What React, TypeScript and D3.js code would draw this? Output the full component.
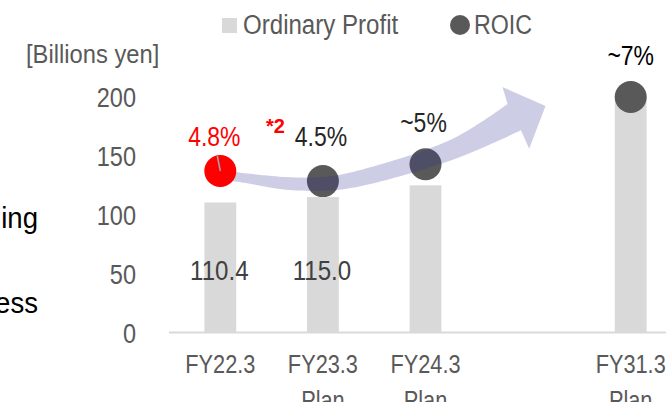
import React from "react";
import * as d3 from "d3";

const categories = ["FY22.3", "FY23.3", "FY24.3", "", "FY31.3"];
const subLabels = ["", "Plan", "Plan", "", "Plan"];
const profit: (number | null)[] = [110.4, 115.0, 125, null, 200];
const profitLabels = ["110.4", "115.0", "", "", ""];
const roic: (number | null)[] = [4.8, 4.5, 5.0, null, 7.0];
const roicLabels = ["4.8%", "4.5%", "~5%", "", "~7%"];
const yTicks = [0, 50, 100, 150, 200];

// arrow outline in (category index, ROIC %) coordinates
const arrowUpper: [number, number][] = [[0.05, 4.8], [0.64, 4.62], [0.99, 4.62], [1.29, 4.77], [2.26, 5.75], [2.8, 6.79]];
const arrowHead: [number, number][] = [[2.75, 7.3], [3.17, 6.73], [3.01, 5.46]];
const arrowLower: [number, number][] = [[2.93, 6.01], [2.26, 5.13], [1.29, 4.3], [0.99, 4.21], [0.64, 4.24], [0.31, 4.41], [0.05, 4.53]];

const W = 666, H = 402;
const FONT = "'Liberation Sans',Arial,sans-serif";
const GRAY = "#595959";

type TProps = { x: number; y: number; size: number; fill: string; anchor?: string; sx?: number; dy?: string; weight?: string; children: React.ReactNode };
function T({ x, y, size, fill, anchor = "start", sx = 0.84, dy, weight, children }: TProps) {
  return (
    <text transform={`translate(${x},${y}) scale(${sx},1)`} textAnchor={anchor} dy={dy} fontFamily={FONT} fontSize={size} fontWeight={weight} fill={fill}>
      {children}
    </text>
  );
}

export default function App() {
  const x = d3.scaleBand<string>().domain(categories.map((c, i) => String(i))).range([169, 169 + 5 * 102.6]).padding(0);
  const barW = x.bandwidth() * 0.31;
  const cx = (i: number) => (x(String(i)) as number) + x.bandwidth() / 2;
  const y = d3.scaleLinear().domain([0, 200]).range([332.5, 97]);
  const yr = d3.scaleLinear().domain([0, 7]).range([332.5, 97]);
  const fx = (i: number) => cx(0) + i * x.step();

  const lineGen = d3.line<[number, number]>().x(d => fx(d[0])).y(d => yr(d[1])).curve(d3.curveCatmullRom);
  const up = lineGen(arrowUpper) as string;
  const low = (lineGen(arrowLower) as string).replace(/^M/, "L");
  const head = arrowHead.map(p => `L${fx(p[0])},${yr(p[1])}`).join("");
  const arrowPath = up + head + low + "Z";

  return (
    <svg width={W} height={H} style={{ position: "absolute", left: 0, top: 0, background: "#fff" }}>
      {/* partial text from the left */}
      <T x={38} y={228} anchor="end" size={30} sx={0.92} fill="#000">ing</T>
      <T x={38} y={313} anchor="end" size={30} sx={0.92} fill="#000">ess</T>

      {/* legend */}
      <rect x={222} y={18} width={15} height={15} fill="#d9d9d9" />
      <T x={243} y={34} size={28} sx={0.86} fill={GRAY}>Ordinary Profit</T>
      <circle cx={460} cy={25} r={10} fill={GRAY} />
      <T x={474} y={34} size={28} sx={0.83} fill={GRAY}>ROIC</T>

      <T x={26} y={63} size={25} sx={0.95} fill={GRAY}>[Billions yen]</T>

      {yTicks.map(t => (
        <T key={t} x={136} y={y(t)} dy="0.36em" anchor="end" size={28} fill={GRAY}>{t}</T>
      ))}

      {profit.map((v, i) => v == null ? null : (
        <rect key={i} x={cx(i) - barW / 2} y={y(v)} width={barW} height={y(0) - y(v)} fill="#d9d9d9" />
      ))}
      <line x1={169} x2={W} y1={y(0)} y2={y(0)} stroke="#d9d9d9" strokeWidth={2} />

      {profitLabels.map((l, i) => l ? (
        <T key={i} x={cx(i) - 1} y={280} anchor="middle" size={28} sx={0.86} fill="#404040">{l}</T>
      ) : null)}

      {categories.map((c, i) => c ? (
        <g key={i}>
          <T x={cx(i)} y={373} anchor="middle" size={25} sx={0.87} fill={GRAY}>{c}</T>
          {subLabels[i] && <T x={cx(i)} y={409} anchor="middle" size={25} sx={0.87} fill={GRAY}>{subLabels[i]}</T>}
        </g>
      ) : null)}

      {roic.map((v, i) => v == null || i === 0 ? null : (
        <circle key={i} cx={cx(i)} cy={yr(v)} r={16} fill={GRAY} />
      ))}

      <path d={arrowPath} fill="#2e3396" fillOpacity={0.24} />

      <circle cx={cx(0)} cy={yr(roic[0] as number)} r={16} fill="#ff0000" />
      <line x1={cx(0) - 3} y1={yr(roic[0] as number) - 15} x2={cx(0)} y2={yr(roic[0] as number)} stroke="#a6a6a6" strokeWidth={1.5} />

      <T x={cx(0) - 6} y={146} anchor="middle" size={28} sx={0.82} fill="#ff0000">{roicLabels[0]}</T>
      <T x={cx(1) - 2} y={146} anchor="middle" size={28} sx={0.82} fill="#262626">{roicLabels[1]}</T>
      <T x={266} y={133} size={20} sx={1} weight="bold" fill="#ff0000">*2</T>
      <T x={cx(2) - 2} y={132} anchor="middle" size={28} sx={0.82} fill="#262626">{roicLabels[2]}</T>
      <T x={cx(4)} y={65} anchor="middle" size={28} sx={0.82} fill="#000">{roicLabels[4]}</T>
    </svg>
  );
}
